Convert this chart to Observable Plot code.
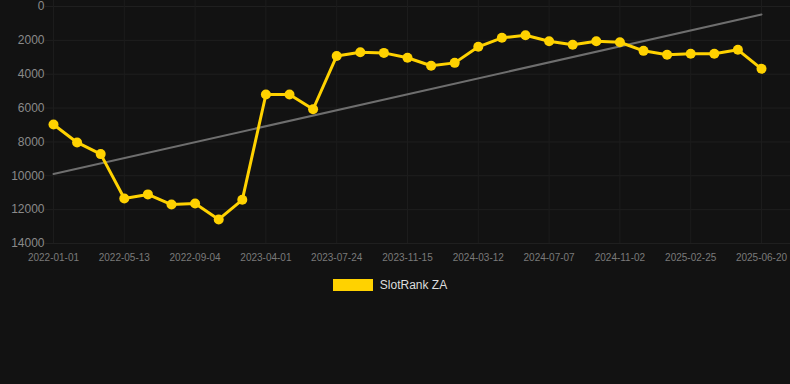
<!DOCTYPE html>
<html>
<head>
<meta charset="utf-8">
<script src="https://cdn.jsdelivr.net/npm/d3@7"></script>
<script src="https://cdn.jsdelivr.net/npm/@observablehq/plot@0.6"></script>
<style>
  html, body { margin: 0; padding: 0; background: #121212; }
  body { width: 790px; height: 384px; overflow: hidden; font-family: "Liberation Sans", Arial, sans-serif; }
  #legend { display: flex; align-items: center; justify-content: center; height: 30px; margin-top: 0px; padding-right: 10px; }
  #legend .sw { width: 40px; height: 12px; background: #FFD200; margin-right: 7px; }
  #legend .lb { color: #dddddd; font-size: 12px; }
</style>
</head>
<body>
<div id="chart"></div>
<div id="legend"><div class="sw"></div><div class="lb">SlotRank ZA</div></div>
<script>
const dates = [
  "2022-01-01","2022-02-14","2022-03-30","2022-05-13","2022-06-20","2022-07-28",
  "2022-09-04","2022-11-13","2023-01-21","2023-04-01","2023-05-09","2023-06-16",
  "2023-07-24","2023-08-30","2023-10-08","2023-11-15","2023-12-27","2024-02-03",
  "2024-03-12","2024-04-19","2024-05-29","2024-07-07","2024-08-15","2024-09-24",
  "2024-11-02","2024-12-09","2025-01-18","2025-02-25","2025-04-05","2025-05-13",
  "2025-06-20"
];
const rank = [
  6970, 8030, 8720, 11340, 11100, 11700,
  11640, 12580, 11420, 5200, 5200, 6070,
  2920, 2700, 2740, 3030, 3500, 3330,
  2380, 1850, 1700, 2050, 2260, 2050,
  2110, 2620, 2850, 2790, 2790, 2560,
  3680
];
const tickDates = ["2022-01-01","2022-05-13","2022-09-04","2023-04-01","2023-07-24",
  "2023-11-15","2024-03-12","2024-07-07","2024-11-02","2025-02-25","2025-06-20"];
const yTicks = [0, 2000, 4000, 6000, 8000, 10000, 12000, 14000];
const trendDates = ["2022-01-01", "2025-06-20"];
const trendValues = [9900, 470];

const data = dates.map((d, i) => ({date: d, rank: rank[i]}));
const trend = trendDates.map((d, i) => ({date: d, rank: trendValues[i]}));

const chart = Plot.plot({
  width: 790,
  height: 270,
  marginLeft: 53,
  marginRight: 29,
  marginTop: 6,
  marginBottom: 27,
  style: {background: "#121212", fontFamily: "Liberation Sans, Arial, sans-serif", overflow: "visible"},
  x: {type: "point", domain: dates, padding: 0, round: false},
  y: {domain: [0, 14000], reverse: true},
  marks: [
    Plot.ruleY(yTicks, {stroke: "#1f1f1f", insetLeft: -8, insetRight: -29}),
    Plot.ruleX(tickDates, {stroke: "#1c1c1c", insetTop: -6}),
    Plot.axisY(yTicks, {tickSize: 0, tickPadding: 9, fill: "#8a8a8a", fontSize: 12, label: null, tickFormat: d => String(d)}),
    Plot.axisX(tickDates, {tickSize: 0, tickPadding: 10, fill: "#7a7a7a", fontSize: 10, label: null}),
    Plot.line(trend, {x: "date", y: "rank", stroke: "#6e6e6e", strokeWidth: 2}),
    Plot.line(data, {x: "date", y: "rank", stroke: "#FFD200", strokeWidth: 3}),
    Plot.dot(data, {x: "date", y: "rank", r: 5, fill: "#FFD200", stroke: "none"})
  ]
});
document.getElementById("chart").appendChild(chart);
</script>
</body>
</html>
